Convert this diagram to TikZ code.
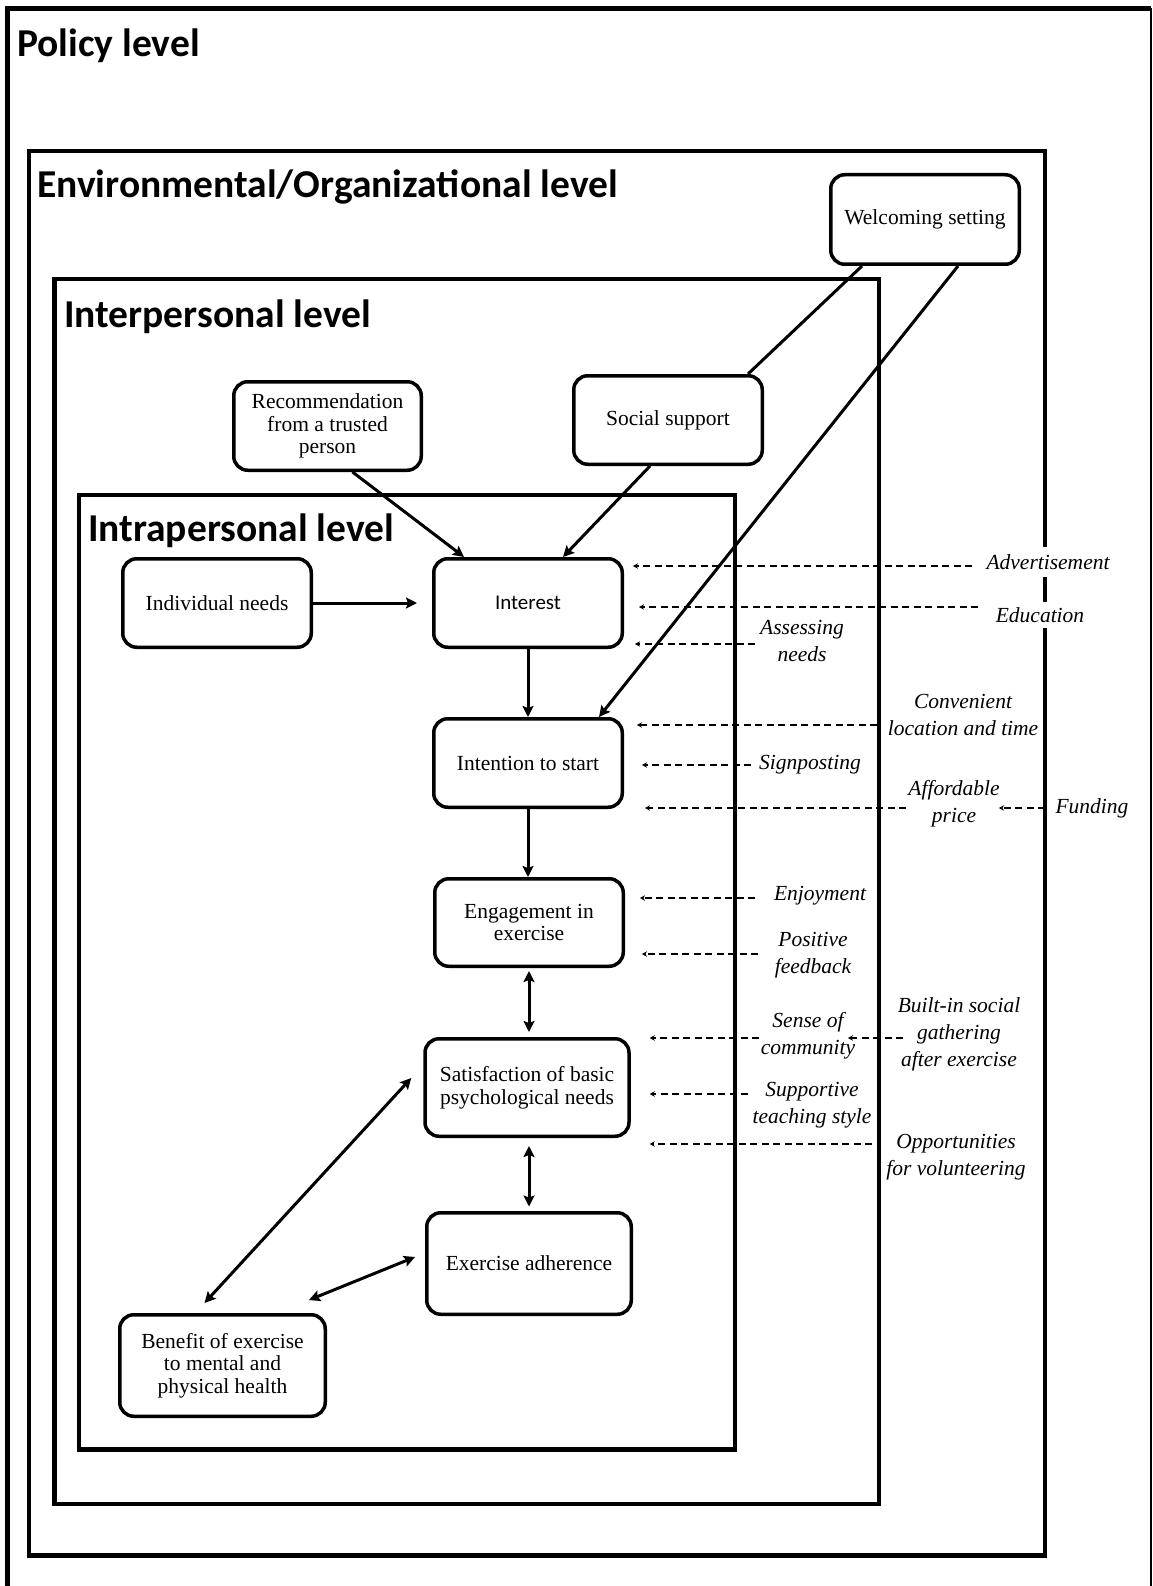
\documentclass[tikz,border=0pt]{standalone}
\usepackage{fontspec}
\setmainfont{Liberation Serif}
\newfontfamily\calib{Carlito}
\usetikzlibrary{arrows.meta,calc}
\begin{document}
\begin{tikzpicture}[x=1pt,y=-1pt,
  box/.style={draw,fill=white,line width=3.5pt,rounded corners=14pt,align=center,
    font=\fontsize{21.5}{22.5}\selectfont,inner sep=0pt},
  frm/.style={draw,line width=4.5pt},
  ttl/.style={anchor=base west,font=\calib\bfseries\fontsize{39.5}{42}\selectfont,inner sep=0pt},
  lab/.style={align=center,font=\itshape\fontsize{21.5}{27}\selectfont,inner sep=1pt},
  arr/.style={line width=3pt,-{Stealth[length=11pt,width=11pt,inset=2pt]}},
  darr/.style={line width=3pt,{Stealth[length=11pt,width=11pt,inset=2pt]}-{Stealth[length=11pt,width=11pt,inset=2pt]}},
  plain/.style={line width=3pt},
  dsh/.style={line width=1.8pt,dash pattern=on 7pt off 4.5pt,-{Stealth[length=5pt,width=5.5pt]}},
]
\useasboundingbox (0,0) rectangle (1152,1586);

% frames
\draw[line width=5pt] (7.5,1586) -- (7.5,8.5) -- (1151,8.5);
\draw[line width=2pt] (1151,8.5) -- (1151,1586);
\draw[frm] (29,151) rectangle (1045,1555.5);
\draw[frm] (54.5,279) rectangle (879,1504);
\draw[frm] (79,495) rectangle (735,1449.5);

% titles
\node[ttl] (tpol) at (17,57) {Policy level};
\node[ttl] (tenv) at (37,198) {Environmental/Organizational level};
\node[ttl] (tint) at (64,327) {Interpersonal level};
\node[ttl] (tintra) at (88,541) {Intrapersonal level};

% boxes
\node[box,minimum width=188.5pt,minimum height=89.5pt] (ws) at (925,219.5) {Welcoming setting};
\node[box,minimum width=188.5pt,minimum height=88.5pt] (ss) at (668,420) {Social support};
\node[box,minimum width=187.5pt,minimum height=88.5pt] (rec) at (327.5,426) {Recommendation\\from a trusted\\person};
\node[box,minimum width=188.5pt,minimum height=88.5pt] (ind) at (217,603) {Individual needs};
\node[box,minimum width=188.5pt,minimum height=88.5pt,font=\calib\fontsize{21}{22}\selectfont] (int) at (528,603) {Interest};
\node[box,minimum width=188.5pt,minimum height=88.5pt] (its) at (528,763) {Intention to start};
\node[box,minimum width=188.5pt,minimum height=87.5pt] (eng) at (529,922.5) {Engagement in\\exercise};
\node[box,minimum width=204pt,minimum height=97.5pt] (sat) at (527,1087.5) {Satisfaction of basic\\psychological needs};
\node[box,minimum width=204.5pt,minimum height=101.5pt] (adh) at (529,1263.5) {Exercise adherence};
\node[box,minimum width=205.5pt,minimum height=101.5pt] (ben) at (222.5,1365.5) {Benefit of exercise\\to mental and\\physical health};

% solid connectors
\draw[arr] ($(rec.south)+(25,0)$) -- ($(int.north)+(-64,0)$);
\draw[arr] ($(ss.south)+(-18,0)$) -- ($(int.north)+(35,0)$);
\draw[plain] ($(ws.south)+(-63,0)$) -- ($(ss.north east)+(-16,0)$);
\draw[arr] ($(ws.south)+(33,0)$) -- ($(its.north)+(71,0)$);
\draw[arr,shorten >=15pt] (ind.east) -- (int.west);
\draw[arr] (int.south) -- (its.north);
\draw[arr] (its.south) -- (its.south |- eng.north);
\draw[darr,shorten <=3pt,shorten >=5pt] (eng.south) -- (eng.south |- sat.north);
\draw[darr,shorten <=8pt,shorten >=4.5pt] (eng.south |- sat.south) -- (eng.south |- adh.north);
\draw[darr] ($(ben.north)+(-18,-10)$) -- ($(sat.west)+(-12,-9.5)$);
\draw[darr] ($(adh.west)+(-10,-6.5)$) -- ($(ben.north east)+(-18,-13)$);

% labels
\node[lab,fill=white,inner xsep=2pt,inner ysep=7pt] (adv) at (1048,562) {Advertisement};
\node[lab,fill=white,inner xsep=2pt,inner ysep=5pt] (edu) at (1040,615) {Education};
\node[lab] (ass) at (802,641) {Assessing\\needs};
\node[lab] (conv) at (963,714.5) {Convenient\\location and time};
\node[lab] (sign) at (810,765) {Signposting};
\node[lab] (aff) at (954,804) {Affordable\\price};
\node[lab] (fund) at (1092,808) {Funding};
\node[lab] (enj) at (820,896) {Enjoyment};
\node[lab] (pos) at (813,955) {Positive\\feedback};
\node[lab] (sense) at (808,1035.5) {Sense of\\community};
\node[lab] (built) at (959,1034.5) {Built-in social\\gathering\\after exercise};
\node[lab] (supp) at (812,1105.5) {Supportive\\teaching style};
\node[lab] (opp) at (956,1157) {Opportunities\\for volunteering};

% dashed connectors
\coordinate (cAdv) at (972,566);
\coordinate (cEdu) at (978,607);
\coordinate (cAss) at (755,644);
\coordinate (cConv) at (877,725);
\coordinate (cSign) at (751,765);
\coordinate (cAff) at (906,808);
\coordinate (cFund) at (1045,808);
\coordinate (cFundT) at (999,808);
\coordinate (cEnj) at (755,898);
\coordinate (cPos) at (758,954);
\coordinate (cSense) at (759,1038);
\coordinate (cBuilt) at (903,1038);
\coordinate (cBuiltT) at (848,1038);
\coordinate (cSupp) at (748,1094);
\coordinate (cOpp) at (872,1144);

\draw[dsh] (cAdv) -- ($(int.east |- cAdv)+(9,0)$);
\draw[dsh] (cEdu) -- ($(int.east |- cEdu)+(15,0)$);
\draw[dsh] (cAss) -- ($(int.east |- cAss)+(11,0)$);
\draw[dsh] (cConv) -- ($(its.east |- cConv)+(13,0)$);
\draw[dsh] (cSign) -- ($(its.east |- cSign)+(18,0)$);
\draw[dsh] (cAff) -- ($(its.east |- cAff)+(21,0)$);
\draw[dsh] (cFund) -- (cFundT);
\draw[dsh] (cEnj) -- ($(eng.east |- cEnj)+(15,0)$);
\draw[dsh] (cPos) -- ($(eng.east |- cPos)+(17,0)$);
\draw[dsh] (cSense) -- ($(sat.east |- cSense)+(19,0)$);
\draw[dsh] (cBuilt) -- (cBuiltT);
\draw[dsh] (cSupp) -- ($(sat.east |- cSupp)+(19,0)$);
\draw[dsh] (cOpp) -- ($(sat.east |- cOpp)+(19,0)$);
\end{tikzpicture}
\end{document}
